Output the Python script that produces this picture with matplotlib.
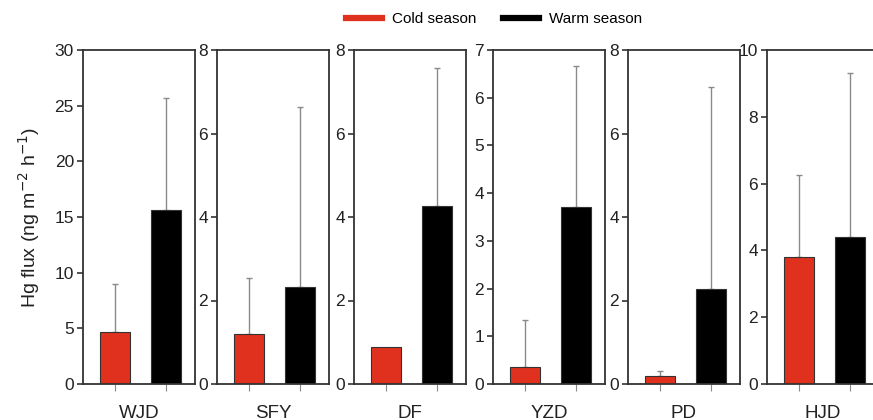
import numpy as np
import matplotlib
matplotlib.use("Agg")
import matplotlib.pyplot as plt
from matplotlib.lines import Line2D

# Données
sites = ["WJD", "SFY", "DF", "YZD", "PD", "HJD"]
cold_mean = [4.7, 1.2, 0.89, 0.36, 0.2, 3.81]
cold_err = [4.3, 1.33, 0.0, 0.98, 0.11, 2.44]
warm_mean = [15.6, 2.32, 4.27, 3.70, 2.27, 4.39]
warm_err = [10.1, 4.31, 3.31, 2.97, 4.85, 4.91]
y_max = [30, 8, 8, 7, 8, 10]
y_step = [5, 2, 2, 1, 2, 2]

red = "#e0301e"
spine_col = "#333333"
err_col = "#8a8a8a"

plt.rcParams["font.family"] = ["Liberation Sans", "DejaVu Sans"]

W, H = 873, 420
fig = plt.figure(figsize=(W / 100, H / 100), dpi=100)

# bords gauche des panneaux (pixels)
lefts = [83, 217, 354, 493, 628, 767]
pw = 112
top, bottom = 50, 384

for i, site in enumerate(sites):
    ax = fig.add_axes([lefts[i] / W, 1 - bottom / H, pw / W, (bottom - top) / H])
    ax.bar(0, cold_mean[i], width=0.6, color=red, edgecolor=spine_col, linewidth=0.8, zorder=2)
    ax.bar(1, warm_mean[i], width=0.6, color="black", edgecolor=spine_col, linewidth=0.8, zorder=2)
    for x, m, e in [(0, cold_mean[i], cold_err[i]), (1, warm_mean[i], warm_err[i])]:
        if e > 0:
            ax.errorbar(x, m, yerr=[[0], [e]], fmt="none", ecolor=err_col,
                        elinewidth=1.0, capsize=2, capthick=1.0, zorder=1)
    ax.set_xlim(-0.63, 1.57)
    ax.set_ylim(0, y_max[i])
    ax.set_yticks(np.arange(0, y_max[i] + 0.01, y_step[i]))
    ax.set_xticks([0, 1])
    ax.set_xticklabels(["", ""])
    ax.tick_params(axis="x", direction="out", length=5, color=err_col, width=0.8)
    ax.tick_params(axis="y", direction="out", length=4, color=spine_col, width=1.2,
                   labelsize=12.5, labelcolor="#222222", pad=2.5)
    for s in ax.spines.values():
        s.set_color(spine_col)
        s.set_linewidth(1.3)
    ax.text(0.5, -0.062, site, transform=ax.transAxes, ha="center", va="top",
            fontsize=13.5, color="#222222")
    if i == 0:
        ax.set_ylabel("Hg flux (ng m$^{-2}$ h$^{-1}$)", fontsize=14, color="#222222", labelpad=9)

handles = [Line2D([], [], color=red, lw=4.5), Line2D([], [], color="black", lw=4.5)]
fig.legend(handles, ["Cold season", "Warm season"], loc="center",
           bbox_to_anchor=(494 / W, 1 - 19 / H), ncol=2, frameon=False,
           fontsize=11, handlelength=2.35, columnspacing=1.7, handletextpad=0.7)

fig.savefig("out.png", dpi=100)
